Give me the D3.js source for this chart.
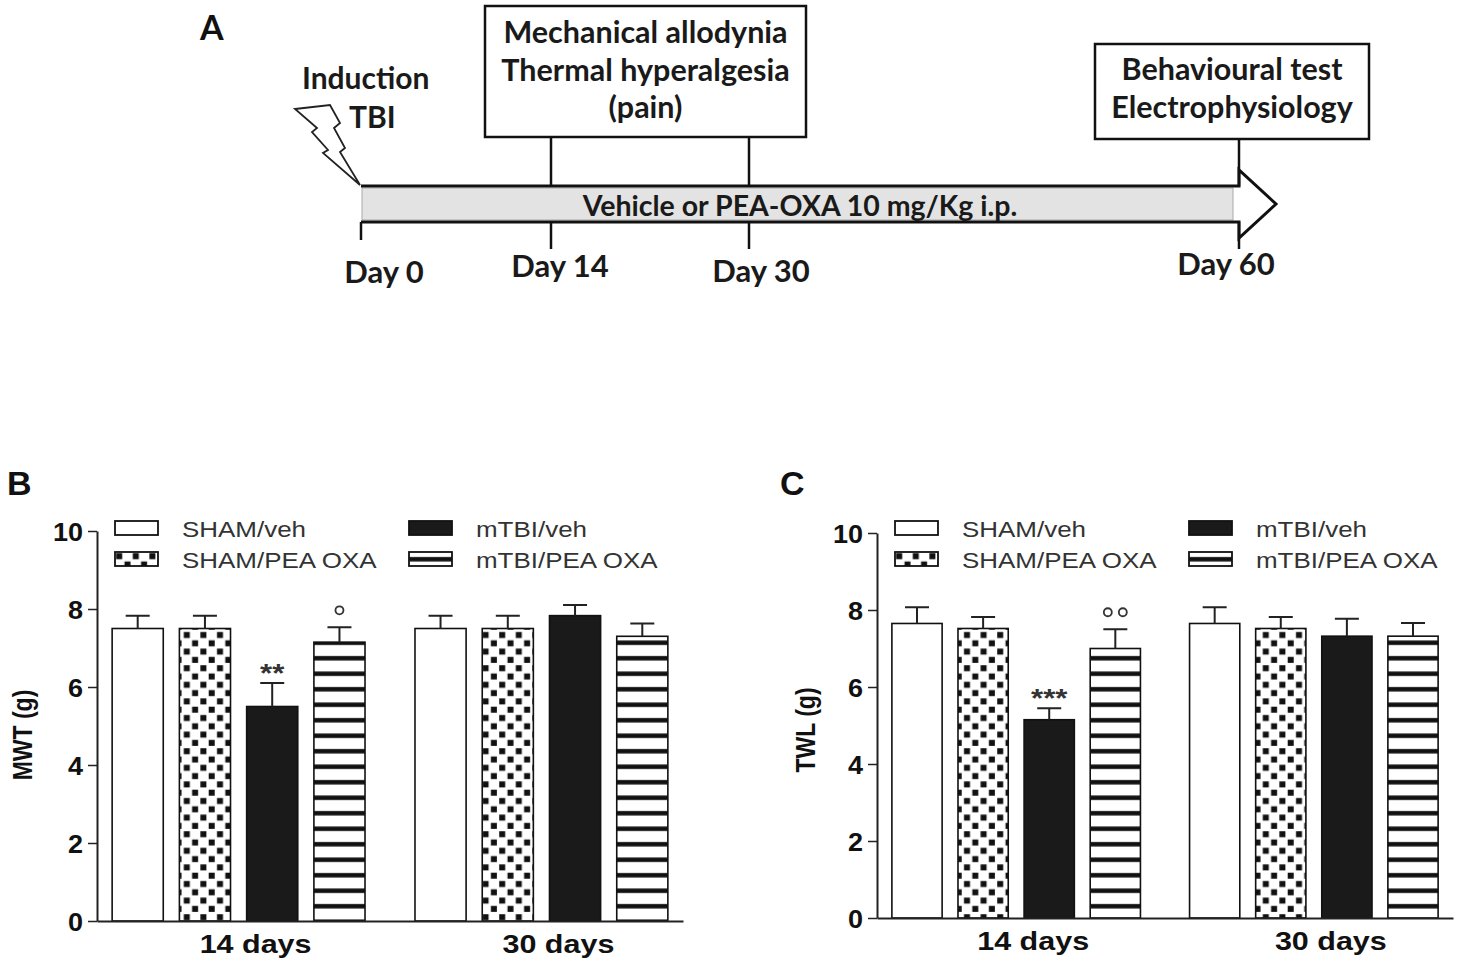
<!DOCTYPE html>
<html>
<head>
<meta charset="utf-8">
<script src="https://cdn.jsdelivr.net/npm/d3@7"></script>
<style>
  body { margin: 0; background: #fff; }
  svg { display: block; }
  .tl { font-family: Lato, 'Open Sans', sans-serif; font-weight: 700; fill: #1a1a1a; }
  .gp, .gp text { font-family: 'Liberation Sans', Arial, sans-serif; }
  .letter { font-family: Lato, 'Open Sans', sans-serif; font-weight: 700; font-size: 34px; fill: #111; }
</style>
</head>
<body>
<div id="chart"></div>
<script>
// ---- data ----
var days = [0, 14, 30, 60];
var dayLabels = ['Day 0', 'Day 14', 'Day 30', 'Day 60'];
var box1Lines = ['Mechanical allodynia', 'Thermal hyperalgesia', '(pain)'];
var box1Days = [14, 30];
var box2Lines = ['Behavioural test', 'Electrophysiology'];
var box2Days = [60];
var arrowLabel = 'Vehicle or PEA-OXA 10 mg/Kg i.p.';

var timepoints = ['14 days', '30 days'];
var groups = ['SHAM/veh', 'SHAM/PEA OXA', 'mTBI/veh', 'mTBI/PEA OXA'];
var yTicks = [0, 2, 4, 6, 8, 10];

var mwtMean = [[7.5, 7.5, 5.5, 7.15], [7.5, 7.5, 7.83, 7.3]];
var mwtSem  = [[0.33, 0.33, 0.6, 0.38], [0.33, 0.33, 0.27, 0.33]];
var mwtMarks = [['', '', '**', '°'], ['', '', '', '']];

var twlMean = [[7.65, 7.52, 5.15, 7.0], [7.65, 7.52, 7.32, 7.32]];
var twlSem  = [[0.42, 0.3, 0.3, 0.5], [0.42, 0.3, 0.45, 0.34]];
var twlMarks = [['', '', '***', '°°'], ['', '', '', '']];

// ---- page ----
var svg = d3.select('#chart').append('svg')
  .attr('width', 1476)
  .attr('height', 967);

var defs = svg.append('defs');

var checker = defs.append('pattern')
  .attr('id', 'checker')
  .attr('patternUnits', 'userSpaceOnUse')
  .attr('width', 16.6).attr('height', 16.6);
checker.append('rect').attr('width', 16.6).attr('height', 16.6).attr('fill', '#fff');
checker.append('rect').attr('x', 1.2).attr('y', 1.2).attr('width', 6).attr('height', 6).attr('fill', '#111');
checker.append('rect').attr('x', 9.5).attr('y', 9.5).attr('width', 6).attr('height', 6).attr('fill', '#111');

var stripes = defs.append('pattern')
  .attr('id', 'stripes')
  .attr('patternUnits', 'userSpaceOnUse')
  .attr('width', 10).attr('height', 15.5);
stripes.append('rect').attr('width', 10).attr('height', 15.5).attr('fill', '#fff');
stripes.append('rect').attr('y', 5).attr('width', 10).attr('height', 4.5).attr('fill', '#111');

var barFills = ['#fff', 'url(#checker)', '#1a1a1a', 'url(#stripes)'];

// ================= panel A: timeline =================
var gA = svg.append('g');

var dayX = d3.scaleLinear().domain(days).range([361, 551, 749, 1239]);
var arrowTop = 186, arrowBot = 222;

gA.append('text').attr('class', 'letter').attr('x', 200).attr('y', 40).text('A');

// grey body of the arrow
gA.append('rect')
  .attr('x', dayX(0) + 1)
  .attr('y', arrowTop + 2)
  .attr('width', dayX(60) - 6 - dayX(0) - 1)
  .attr('height', arrowBot - arrowTop - 4)
  .attr('fill', '#e3e3e3')
  .attr('stroke', '#999')
  .attr('stroke-width', 0.8);

// arrow outline
var ap = d3.path();
ap.moveTo(dayX(0), arrowTop);
ap.lineTo(dayX(60), arrowTop);
ap.lineTo(dayX(60), arrowTop - 16);
ap.lineTo(dayX(60) + 37, (arrowTop + arrowBot) / 2);
ap.lineTo(dayX(60), arrowBot + 16);
ap.lineTo(dayX(60), arrowBot);
ap.lineTo(dayX(0), arrowBot);
gA.append('path')
  .attr('d', ap.toString())
  .attr('fill', 'none')
  .attr('stroke', '#111')
  .attr('stroke-width', 3)
  .attr('stroke-linejoin', 'miter');

gA.append('text')
  .attr('class', 'tl')
  .attr('x', 800).attr('y', 216)
  .attr('text-anchor', 'middle')
  .style('font-size', '28.5px')
  .text(arrowLabel);

// day ticks + labels
var labelDx = { 0: 23, 14: 9, 30: 12, 60: -13 };
var labelY = { 0: 283, 14: 277, 30: 282, 60: 275 };
gA.selectAll('.dtick')
  .data(days)
  .enter()
  .append('line')
  .attr('class', 'dtick')
  .attr('x1', d => dayX(d)).attr('x2', d => dayX(d))
  .attr('y1', arrowBot).attr('y2', d => d === 0 ? arrowBot + 18 : arrowBot + 27)
  .attr('stroke', '#111')
  .attr('stroke-width', 2.5);

gA.selectAll('.dlabel')
  .data(days)
  .enter()
  .append('text')
  .attr('class', 'tl dlabel')
  .attr('x', d => dayX(d) + labelDx[d])
  .attr('y', d => labelY[d])
  .attr('text-anchor', 'middle')
  .style('font-size', '31px')
  .text((d, i) => dayLabels[i]);

// boxes
function drawBox(lines, boxDays, x, y, w, h, y0Text) {
  gA.selectAll(null)
    .data(boxDays)
    .enter()
    .append('line')
    .attr('x1', d => dayX(d)).attr('x2', d => dayX(d))
    .attr('y1', y + h).attr('y2', arrowTop)
    .attr('stroke', '#111')
    .attr('stroke-width', 2.5);
  gA.append('rect')
    .attr('x', x).attr('y', y).attr('width', w).attr('height', h)
    .attr('fill', '#fff')
    .attr('stroke', '#111')
    .attr('stroke-width', 2.5);
  gA.selectAll(null)
    .data(lines)
    .enter()
    .append('text')
    .attr('class', 'tl')
    .attr('x', x + w / 2)
    .attr('y', (d, i) => y0Text + i * 37.5)
    .attr('text-anchor', 'middle')
    .style('font-size', '30.5px')
    .text(d => d);
}
drawBox(box1Lines, box1Days, 485, 6, 321, 131, 43);
drawBox(box2Lines, box2Days, 1095, 44, 274, 95, 80);

// induction
gA.append('polygon')
  .attr('points', '295,109 330,105 340,123 334,128 345,148 340,152 360,185 323,153 328,150 312,132 317,128')
  .attr('fill', '#fff')
  .attr('stroke', '#222')
  .attr('stroke-width', 1.8)
  .attr('stroke-linejoin', 'miter');
gA.append('text').attr('class', 'tl').attr('x', 302).attr('y', 89)
  .style('font-size', '30px').text('Induction');
gA.append('text').attr('class', 'tl').attr('x', 349).attr('y', 128)
  .style('font-size', '30px').text('TBI');

// ================= panels B and C =================
var SX = 1.2; // the bar charts are stretched horizontally

function drawPanel(p) {
  var g = svg.append('g').attr('class', 'gp');

  var y = d3.scaleLinear().domain([0, 10]).range([p.y0, p.y10]);
  var x = d3.scaleBand().domain(timepoints).range([p.ax, p.axEnd])
    .paddingInner(0.165).paddingOuter(0.05);
  var xs = d3.scaleBand().domain(groups).range([0, x.bandwidth()])
    .paddingInner(0.24);

  g.append('text').attr('class', 'letter').attr('x', p.letterX).attr('y', 495).text(p.letter);

  var rows = [];
  timepoints.forEach((t, ti) => {
    groups.forEach((gr, gi) => {
      rows.push({ t: t, g: gr, gi: gi, mean: p.means[ti][gi], sem: p.sems[ti][gi], mark: p.marks[ti][gi] });
    });
  });

  // bars
  g.selectAll('.bar')
    .data(rows)
    .enter()
    .append('rect')
    .attr('class', 'bar')
    .attr('x', d => x(d.t) + xs(d.g))
    .attr('y', d => y(d.mean))
    .attr('width', xs.bandwidth())
    .attr('height', d => y(0) - y(d.mean))
    .attr('fill', d => barFills[d.gi])
    .attr('stroke', '#111')
    .attr('stroke-width', 1.6);

  // error bars (upper only)
  var cx = d => x(d.t) + xs(d.g) + xs.bandwidth() / 2;
  g.selectAll('.err')
    .data(rows)
    .enter()
    .append('path')
    .attr('class', 'err')
    .attr('d', d => 'M' + cx(d) + ',' + y(d.mean) + 'V' + y(d.mean + d.sem) +
      'M' + (cx(d) - 12) + ',' + y(d.mean + d.sem) + 'H' + (cx(d) + 12))
    .attr('fill', 'none')
    .attr('stroke', '#222')
    .attr('stroke-width', 2);

  // significance marks
  rows.filter(d => d.mark && d.mark.indexOf('*') >= 0).forEach(d => {
    g.append('text')
      .attr('transform', 'translate(' + cx(d) + ',' + (y(d.mean + d.sem) - 1) + ') scale(' + SX + ',1)')
      .attr('text-anchor', 'middle')
      .style('font-size', '26px')
      .style('font-weight', 'bold')
      .attr('fill', '#333')
      .text(d.mark);
  });
  rows.filter(d => d.mark && d.mark.indexOf('°') >= 0).forEach(d => {
    var n = d.mark.length;
    d3.range(n).forEach(k => {
      g.append('circle')
        .attr('cx', cx(d) + (k - (n - 1) / 2) * 15)
        .attr('cy', y(d.mean + d.sem) - 17)
        .attr('r', 4)
        .attr('fill', 'none')
        .attr('stroke', '#333')
        .attr('stroke-width', 1.8);
    });
  });

  // y axis
  var yAxis = d3.axisLeft(y).tickValues(yTicks).tickSize(9).tickSizeOuter(0).tickPadding(4);
  var ya = g.append('g')
    .attr('transform', 'translate(' + p.ax + ',0)')
    .call(yAxis)
    .attr('font-family', null);
  ya.select('.domain').attr('stroke', '#222').attr('stroke-width', 2);
  ya.selectAll('.tick line').attr('stroke', '#222').attr('stroke-width', 1.5);
  ya.selectAll('.tick text')
    .attr('x', -14 / 1.08)
    .attr('dy', '0.36em')
    .attr('transform', 'scale(1.08,1)')
    .style('font-size', '25px')
    .style('font-weight', 'bold')
    .attr('fill', '#111');

  // x axis
  var xAxis = d3.axisBottom(x).tickSize(0).tickSizeOuter(0);
  var xa = g.append('g')
    .attr('transform', 'translate(0,' + p.y0 + ')')
    .call(xAxis)
    .attr('font-family', null);
  xa.select('.domain').attr('stroke', '#222').attr('stroke-width', 2);
  xa.selectAll('.tick text')
    .attr('x', 17 / 1.22)
    .attr('y', p.labelDy)
    .attr('dy', null)
    .attr('transform', 'scale(1.22,1)')
    .style('font-size', '25px')
    .style('font-weight', 'bold')
    .attr('fill', '#111');

  // y label
  g.append('text')
    .attr('transform', 'translate(' + p.ylabX + ',' + p.ylabY + ') scale(' + SX + ',1) rotate(-90)')
    .attr('text-anchor', 'middle')
    .style('font-size', '23px')
    .style('font-weight', 'bold')
    .attr('fill', '#111')
    .text(p.yLabel);

  // legend
  var leg = g.selectAll('.leg')
    .data(groups)
    .enter()
    .append('g')
    .attr('class', 'leg')
    .attr('transform', (d, i) => 'translate(' + (p.ax + 18 + Math.floor(i / 2) * 294) + ',' + (521 + (i % 2) * 31) + ')');
  leg.append('rect')
    .attr('width', 43).attr('height', 14)
    .attr('fill', (d, i) => barFills[i])
    .attr('stroke', '#111')
    .attr('stroke-width', 1.8);
  leg.append('text')
    .attr('transform', 'translate(67,16) scale(1.18,1)')
    .style('font-size', '22px')
    .attr('fill', '#333')
    .text(d => d);
}

drawPanel({
  letter: 'B', letterX: 7,
  ax: 97, axEnd: 683, y0: 921, y10: 531, labelDy: 32,
  ylabX: 32, ylabY: 735, yLabel: 'MWT (g)',
  means: mwtMean, sems: mwtSem, marks: mwtMarks
});

drawPanel({
  letter: 'C', letterX: 780,
  ax: 877, axEnd: 1453, y0: 918, y10: 533, labelDy: 32,
  ylabX: 815, ylabY: 730, yLabel: 'TWL (g)',
  means: twlMean, sems: twlSem, marks: twlMarks
});
</script>
</body>
</html>
